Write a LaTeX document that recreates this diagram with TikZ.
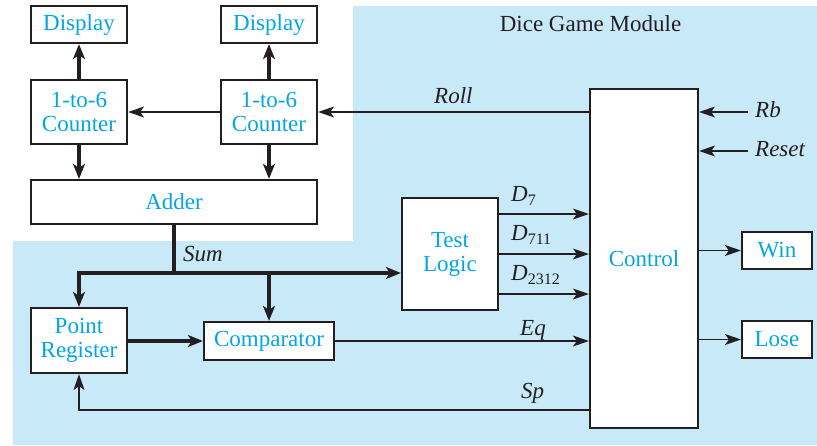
\documentclass[tikz,border=0pt]{standalone}
\usepackage{fontspec}
\setmainfont{Liberation Serif}
\usetikzlibrary{arrows.meta}
\definecolor{bg}{RGB}{199,233,248}
\definecolor{txt}{RGB}{0,166,230}
\definecolor{ln}{RGB}{35,31,32}
\newcommand\sbs[1]{\raisebox{-4pt}{\fontsize{16}{16}\selectfont\upshape #1}}
\begin{document}
\begin{tikzpicture}[x=1pt,y=-1pt,
  box/.style={draw=ln, line width=2.2pt, fill=white, inner sep=0pt, text=txt,
    font=\fontsize{23}{24}\selectfont, align=center},
  bus/.style={draw=ln, line width=4pt, line join=miter, -{Stealth[length=15pt,width=12pt,inset=4pt]}},
  sig/.style={draw=ln, line width=1.3pt, -{Stealth[length=16pt,width=11pt,inset=4pt]}},
  lbl/.style={font=\fontsize{23}{24}\selectfont\itshape, text=ln, inner sep=0pt, anchor=base west}]
\useasboundingbox (0,0) rectangle (817,445);
\fill[bg] (353,6) -- (817,6) -- (817,445) -- (13,445) -- (13,241) -- (353,241) -- cycle;

\node[box, minimum width=96pt, minimum height=37pt] (disp1) at (79,24.5) {Display};
\node[box, minimum width=96pt, minimum height=37pt] (disp2) at (269,24.5) {Display};
\node[box, minimum width=96pt, minimum height=64pt] (cnt1) at (79,112) {1-to-6\\Counter};
\node[box, minimum width=96pt, minimum height=64pt] (cnt2) at (269,112) {1-to-6\\Counter};
\node[box, minimum width=286pt, minimum height=44pt] (adder) at (174,202) {Adder};
\node[box, minimum width=96pt, minimum height=112pt] (test) at (450,254) {Test\\Logic};
\node[box, minimum width=108pt, minimum height=339pt] (ctrl) at (644,258.5) {\raisebox{-4pt}{Control}};
\node[box, minimum width=96pt, minimum height=65pt] (preg) at (79,340.5) {Point\\Register};
\node[box, minimum width=130pt, minimum height=38pt] (comp) at (269,341) {Comparator};
\node[box, minimum width=70pt, minimum height=37pt] (win) at (777,250.5) {Win};
\node[box, minimum width=70pt, minimum height=37pt] (lose) at (777,339.5) {Lose};

\node[font=\fontsize{23}{24}\selectfont, text=ln, inner sep=0pt, anchor=base] (title) at (590.5,31.7) {Dice Game Module};

% counters / displays
\draw[bus] (cnt1) -- (disp1);
\draw[bus] (cnt2) -- (disp2);
\draw[bus] (cnt1) -- (cnt1 |- adder.north);
\draw[bus] (cnt2) -- (cnt2 |- adder.north);
\draw[sig] (cnt2) -- (cnt1);
\draw[sig] (ctrl.west |- cnt2) -- (cnt2);
\node[lbl] (roll) at (434,103) {Roll};

% Rb, Reset
\coordinate (rb) at (748,112);
\coordinate (rs) at (748,151);
\draw[sig] (rb) -- (rb -| ctrl.east);
\draw[sig] (rs) -- (rs -| ctrl.east);
\node[lbl] (rbl) at (755,117.7) {Rb};
\node[lbl] (rsl) at (755,156.7) {Reset};

% Sum bus
\coordinate (sj) at (174,273);
\draw[bus,-] (adder.south) -- (sj);
\draw[bus] (sj) -| (preg.north);
\draw[bus] (sj) -- (sj -| test.west);
\draw[bus] (comp.north |- sj) -- (comp.north);
\node[lbl] (sum) at (183,261.7) {Sum};

\draw[bus] (preg.east |- comp) -- (comp.west);
\draw[sig] (comp) -- (comp -| ctrl.west);
\node[lbl] (eq) at (520,335) {Eq};

% test logic outputs
\coordinate (d7) at ([yshift=-40pt]test.east);
\coordinate (d711) at (test.east);
\coordinate (d2312) at ([yshift=40pt]test.east);
\draw[sig] (d7) -- (d7 -| ctrl.west);
\draw[sig] (d711) -- (d711 -| ctrl.west);
\draw[sig] (d2312) -- (d2312 -| ctrl.west);
\node[lbl] (l7) at (511,201) {D\sbs{7}};
\node[lbl] (l711) at (511,240.7) {D\sbs{711}};
\node[lbl] (l2312) at (511,280.7) {D\sbs{2312}};

% outputs
\draw[sig] (ctrl.east |- win) -- (win);
\draw[sig] (ctrl.east |- lose) -- (lose);

% Sp
\coordinate (spy) at (0,410);
\draw[sig] (ctrl.west |- spy) -| (preg.south);
\node[lbl] (sp) at (521,398) {Sp};
\end{tikzpicture}
\end{document}
